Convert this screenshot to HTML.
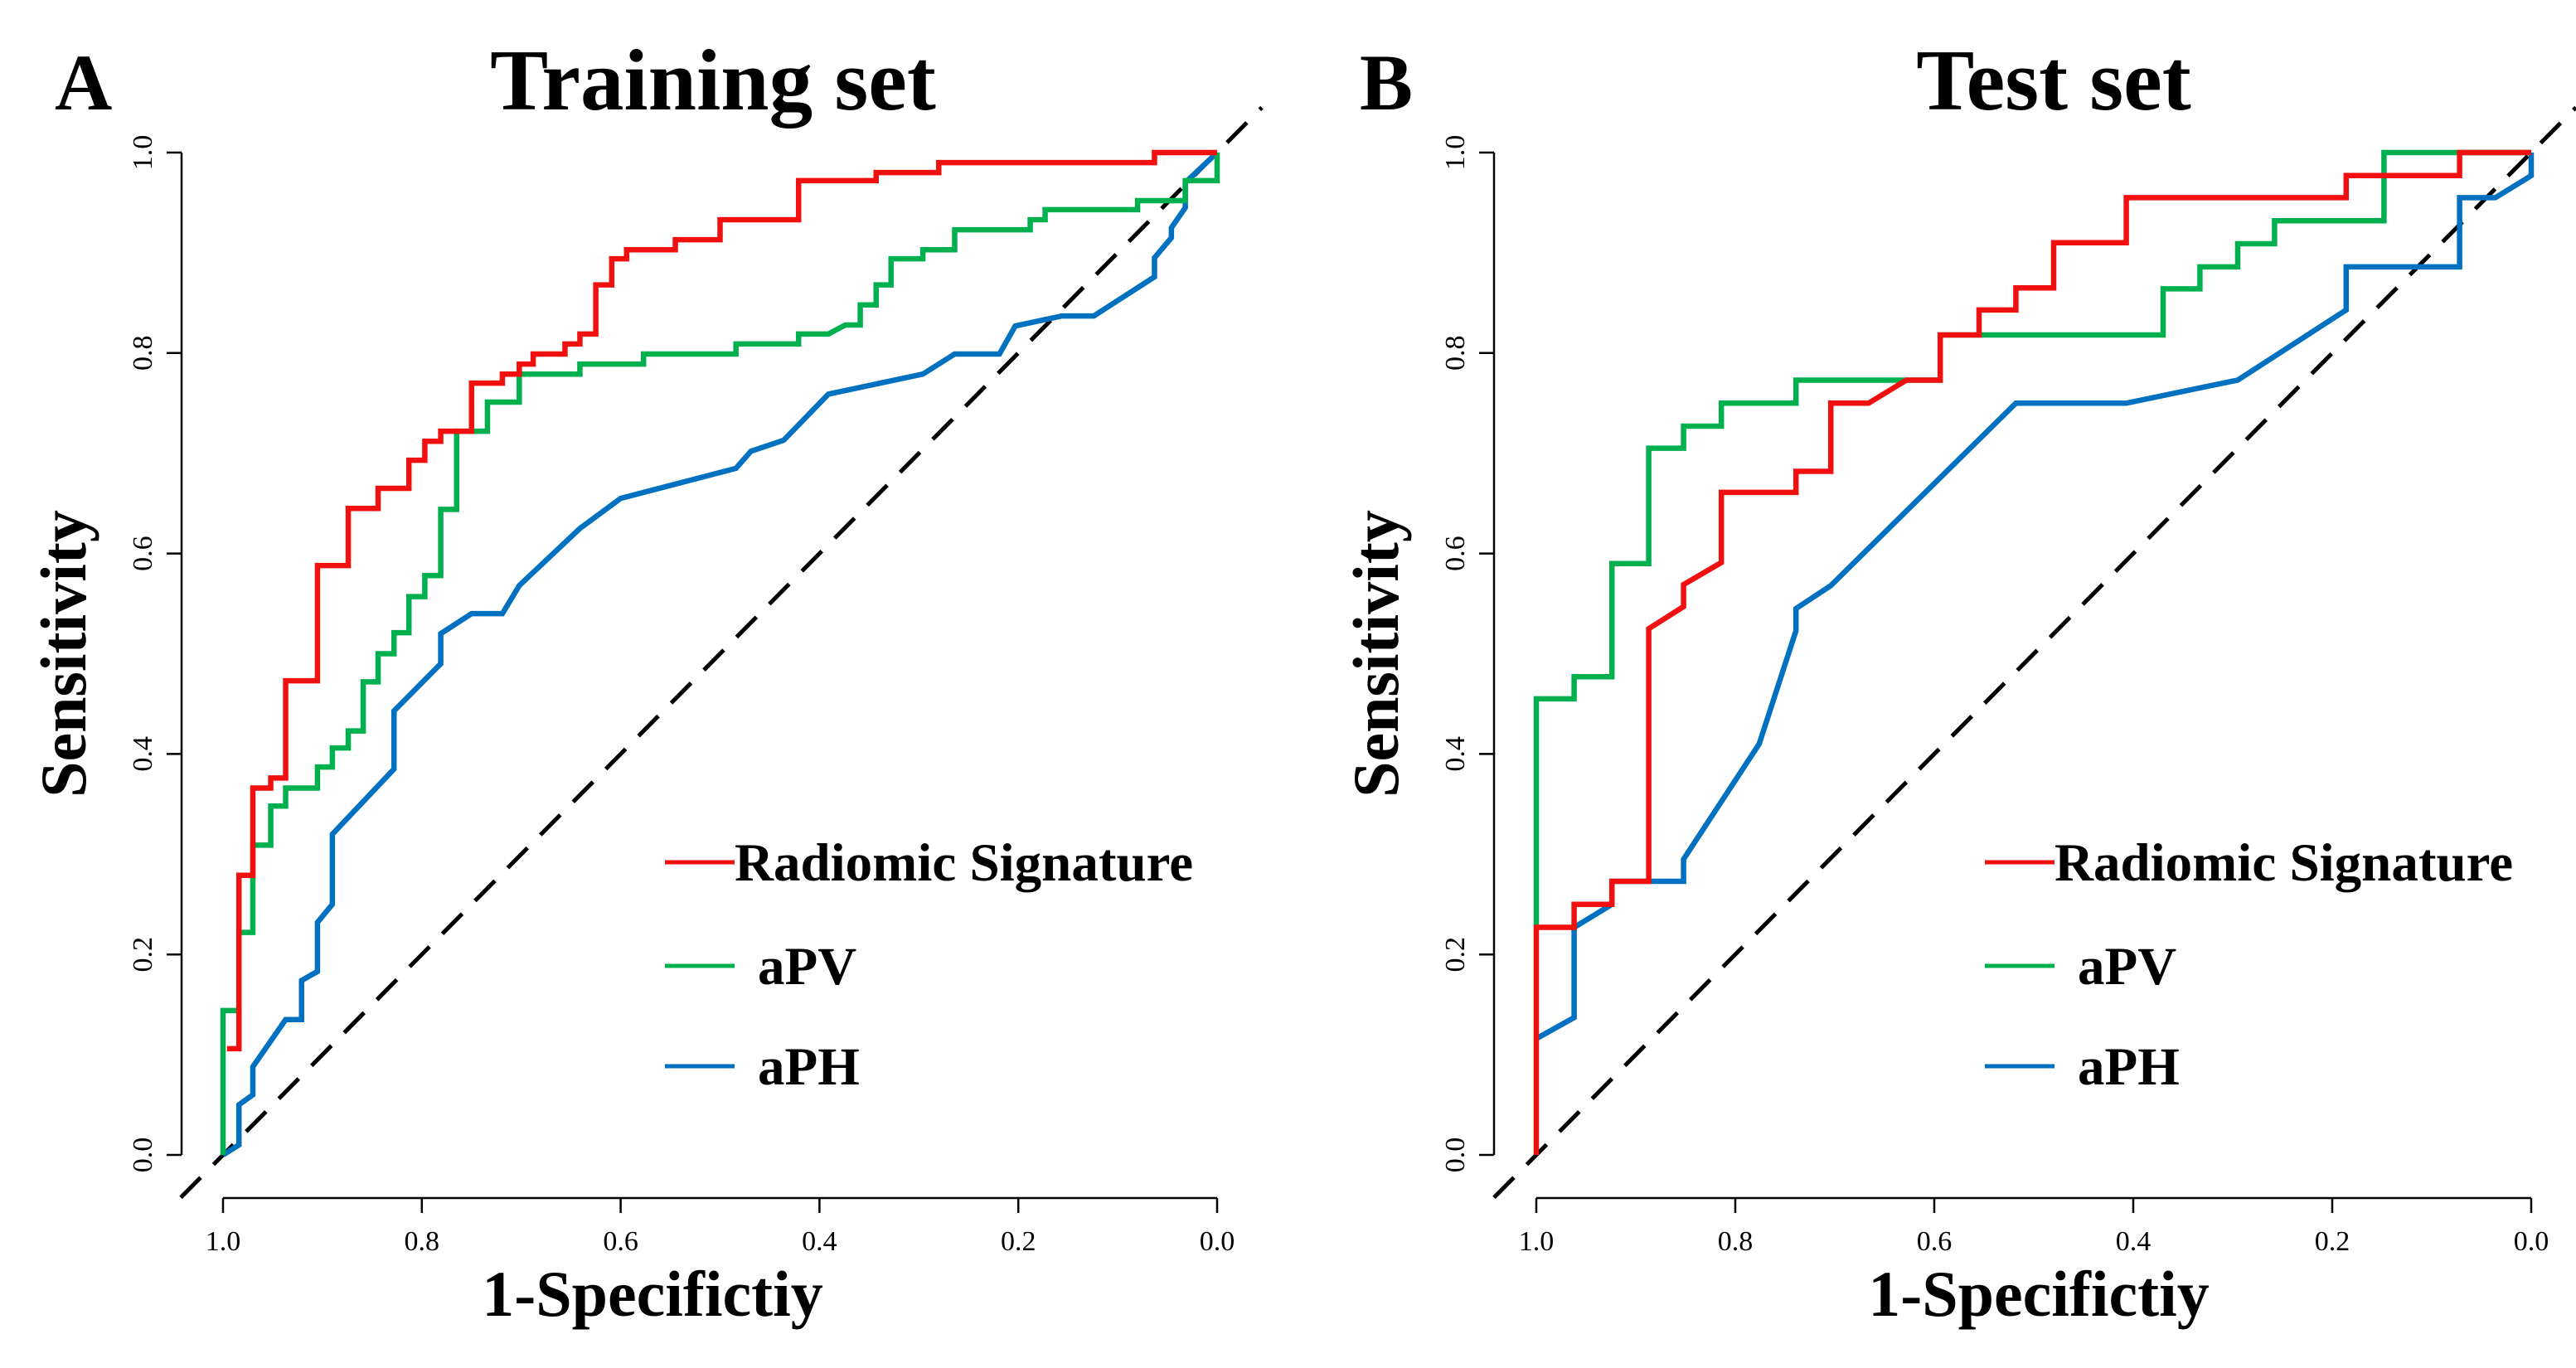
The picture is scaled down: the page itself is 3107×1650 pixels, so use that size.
<!DOCTYPE html>
<html><head><meta charset="utf-8"><style>
html,body{margin:0;padding:0;background:#fff;}
svg{display:block;}
text{font-family:"Liberation Serif",serif;fill:#000;}
</style></head><body>
<svg id="chart" width="3107" height="1650" viewBox="0 0 3107 1650" xmlns="http://www.w3.org/2000/svg"></svg>
<script>
const tickValues = [1.0, 0.8, 0.6, 0.4, 0.2, 0.0];
const tickLabels = ["1.0","0.8","0.6","0.4","0.2","0.0"];
const seriesNames = ["Radiomic Signature","aPV","aPH"];
const seriesColors = ["#f01010","#00b04f","#0070c0"];
const trainRed = [[0.996,0.106],[0.984,0.106],[0.984,0.279],[0.97,0.279],[0.97,0.366],[0.952,0.366],[0.952,0.376],[0.937,0.376],[0.937,0.473],[0.905,0.473],[0.905,0.588],[0.874,0.588],[0.874,0.645],[0.844,0.645],[0.844,0.665],[0.813,0.665],[0.813,0.693],[0.797,0.693],[0.797,0.712],[0.781,0.712],[0.781,0.722],[0.75,0.722],[0.75,0.77],[0.719,0.77],[0.719,0.779],[0.702,0.779],[0.702,0.789],[0.688,0.789],[0.688,0.799],[0.656,0.799],[0.656,0.809],[0.641,0.809],[0.641,0.819],[0.625,0.819],[0.625,0.868],[0.609,0.868],[0.609,0.894],[0.594,0.894],[0.594,0.903],[0.545,0.903],[0.545,0.913],[0.5,0.913],[0.5,0.933],[0.421,0.933],[0.421,0.972],[0.343,0.972],[0.343,0.98],[0.28,0.98],[0.28,0.99],[0.063,0.99],[0.063,1],[0,1]];
const trainGreen = [[1,0],[1,0.144],[0.984,0.144],[0.984,0.222],[0.97,0.222],[0.97,0.309],[0.952,0.309],[0.952,0.348],[0.937,0.348],[0.937,0.366],[0.905,0.366],[0.905,0.387],[0.89,0.387],[0.89,0.406],[0.874,0.406],[0.874,0.423],[0.859,0.423],[0.859,0.472],[0.844,0.472],[0.844,0.5],[0.828,0.5],[0.828,0.521],[0.813,0.521],[0.813,0.557],[0.797,0.557],[0.797,0.578],[0.781,0.578],[0.781,0.644],[0.765,0.644],[0.765,0.722],[0.734,0.722],[0.734,0.751],[0.702,0.751],[0.702,0.779],[0.641,0.779],[0.641,0.789],[0.577,0.789],[0.577,0.799],[0.484,0.799],[0.484,0.809],[0.421,0.809],[0.421,0.819],[0.391,0.819],[0.374,0.828],[0.359,0.828],[0.359,0.848],[0.343,0.848],[0.343,0.868],[0.328,0.868],[0.328,0.894],[0.296,0.894],[0.296,0.903],[0.264,0.903],[0.264,0.923],[0.188,0.923],[0.188,0.933],[0.173,0.933],[0.173,0.943],[0.08,0.943],[0.08,0.952],[0.032,0.952],[0.032,0.972],[0,0.972],[0,1]];
const trainBlue = [[1,0],[0.984,0.01],[0.984,0.05],[0.97,0.06],[0.97,0.088],[0.937,0.135],[0.921,0.135],[0.921,0.174],[0.905,0.183],[0.905,0.232],[0.89,0.25],[0.89,0.32],[0.828,0.385],[0.828,0.443],[0.781,0.49],[0.781,0.52],[0.75,0.54],[0.719,0.54],[0.702,0.568],[0.641,0.625],[0.6,0.655],[0.484,0.685],[0.469,0.702],[0.436,0.713],[0.391,0.759],[0.296,0.779],[0.264,0.799],[0.219,0.799],[0.203,0.827],[0.156,0.837],[0.124,0.837],[0.063,0.876],[0.063,0.895],[0.046,0.915],[0.046,0.925],[0.032,0.945],[0.032,0.97],[0,1]];
const testRed = [[1,0],[1,0.227],[0.962,0.227],[0.962,0.25],[0.924,0.25],[0.924,0.273],[0.887,0.273],[0.887,0.525],[0.852,0.547],[0.852,0.569],[0.814,0.591],[0.814,0.661],[0.739,0.661],[0.739,0.682],[0.704,0.682],[0.704,0.75],[0.666,0.75],[0.628,0.773],[0.594,0.773],[0.594,0.818],[0.555,0.818],[0.555,0.843],[0.518,0.843],[0.518,0.865],[0.48,0.865],[0.48,0.91],[0.407,0.91],[0.407,0.955],[0.186,0.955],[0.186,0.977],[0.072,0.977],[0.072,1],[0,1]];
const testGreen = [[1,0.227],[1,0.455],[0.962,0.455],[0.962,0.477],[0.924,0.477],[0.924,0.59],[0.887,0.59],[0.887,0.705],[0.852,0.705],[0.852,0.727],[0.814,0.727],[0.814,0.75],[0.739,0.75],[0.739,0.773],[0.594,0.773],[0.594,0.818],[0.37,0.818],[0.37,0.864],[0.333,0.864],[0.333,0.886],[0.295,0.886],[0.295,0.909],[0.258,0.909],[0.258,0.932],[0.148,0.932],[0.148,1],[0,1]];
const testBlue = [[1,0.116],[0.962,0.137],[0.962,0.227],[0.924,0.25],[0.924,0.273],[0.852,0.273],[0.852,0.295],[0.776,0.41],[0.739,0.523],[0.739,0.545],[0.704,0.568],[0.518,0.75],[0.407,0.75],[0.295,0.773],[0.186,0.843],[0.186,0.886],[0.072,0.886],[0.072,0.955],[0.036,0.955],[0,0.977],[0,1]];

const NS = "http://www.w3.org/2000/svg";
const svg = document.getElementById("chart");
function mk(tag, attrs, parent){const e=document.createElementNS(NS,tag);for(const k in attrs)e.setAttribute(k,attrs[k]);(parent||svg).appendChild(e);return e;}

const panels = [
 {key:"a", letter:"A", title:"Training set", x1:269, x0:1468, axisX:219, titleX:860, xtX:787, series:[trainRed,trainGreen,trainBlue], legX:802},
 {key:"b", letter:"B", title:"Test set", x1:1853, x0:3053, axisX:1802, titleX:2477, xtX:2459, series:[testRed,testGreen,testBlue], legX:2394}
];
const Y1 = 184, Y0 = 1393, axisY = 1445;

panels.forEach(p=>{
  const g = mk("g",{});
  
  
  const sx = v => p.x0 + v*(p.x1-p.x0);
  const sy = v => Y0 - v*(Y0-Y1);
  const L = mk("text",{x:p.key==="a"?66:1640,y:132,"font-size":96,"font-weight":"bold"},g); L.textContent=p.letter;
  
  
  const T = mk("text",{x:p.titleX,y:132,"font-size":105,"font-weight":"bold","text-anchor":"middle"},g); T.textContent=p.title;
  
  
  const xa = mk("g",{},g);
  
  
  mk("line",{x1:sx(1),x2:sx(0),y1:axisY,y2:axisY,stroke:"#000","stroke-width":2.5},xa);
  const ya = mk("g",{},g);
  
  
  mk("line",{x1:p.axisX,x2:p.axisX,y1:sy(0),y2:sy(1),stroke:"#000","stroke-width":2.5},ya);
  tickValues.forEach((v,i)=>{
    mk("line",{x1:sx(v),x2:sx(v),y1:axisY,y2:axisY+18,stroke:"#000","stroke-width":2.5},xa);
    const t=mk("text",{x:sx(v),y:axisY+63,"font-size":34,"text-anchor":"middle"},xa); t.textContent=tickLabels[i];
    
    
    mk("line",{x1:p.axisX,x2:p.axisX-18,y1:sy(v),y2:sy(v),stroke:"#000","stroke-width":2.5},ya);
    const u=mk("text",{x:0,y:0,"font-size":34,"text-anchor":"middle",transform:`translate(${p.axisX-36},${sy(v)}) rotate(-90)`},ya); u.textContent=tickLabels[i];
    
    
  });
  const xt=mk("text",{x:p.xtX,y:1587,"font-size":78,"font-weight":"bold","text-anchor":"middle"},g); xt.textContent="1-Specifictiy";
  
  
  const yt=mk("text",{x:0,y:0,"font-size":78,"font-weight":"bold","text-anchor":"middle",transform:`translate(${p.axisX-116},${(Y0+Y1)/2}) rotate(-90)`},g); yt.textContent="Sensitivity";
  
  
  const d=mk("line",{x1:sx(1.0425),y1:sy(-0.0425),x2:sx(-0.045),y2:sy(1.045),stroke:"#000","stroke-width":5,"stroke-dasharray":"34,22"},g);
  
  
  p.series.slice().reverse().forEach((s,ri)=>{
    const i = 2-ri;
    const pl=mk("polyline",{points:s.map(q=>sx(q[0])+","+sy(q[1])).join(" "),fill:"none",stroke:seriesColors[i],"stroke-width":6.5,"stroke-linejoin":"miter"},g);
    
    
  });
  const lg=mk("g",{},g);
  
  
  const legY=[1040,1165,1286];
  seriesNames.forEach((n,i)=>{
    const e=mk("g",{},lg);
    
    
    mk("line",{x1:p.legX,x2:p.legX+84,y1:legY[i],y2:legY[i],stroke:seriesColors[i],"stroke-width":5},e);
    const t=mk("text",{x:p.legX+(i===0?84:112),y:legY[i]+22,"font-size":65,"font-weight":"bold"},e); t.textContent=n;
  });
});
</script>
</body></html>
